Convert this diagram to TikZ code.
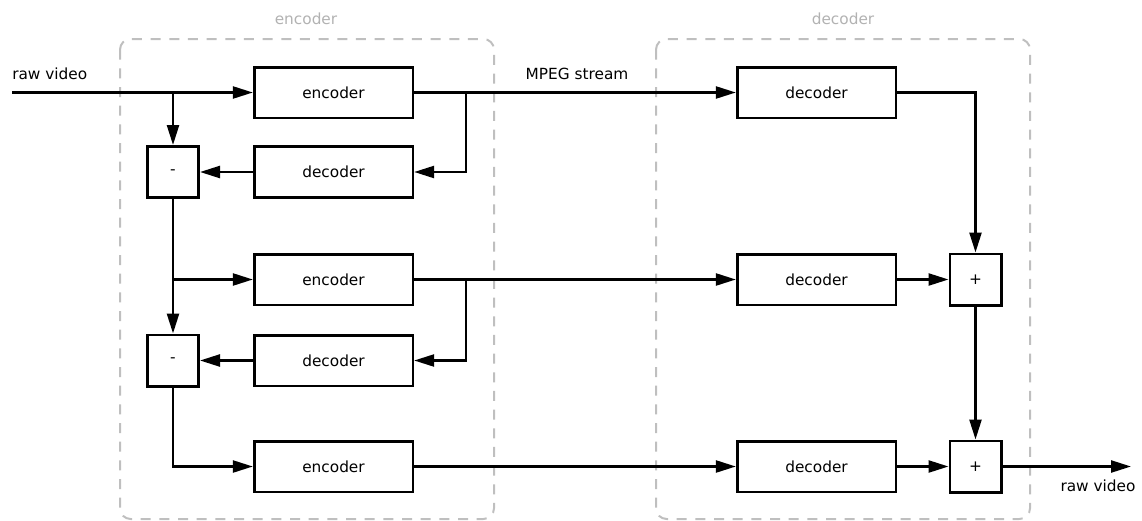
\documentclass[tikz,border=0pt]{standalone}
\usepackage{fontspec}
\setmainfont{DejaVu Sans}
\usetikzlibrary{arrows.meta}
\begin{document}
\begin{tikzpicture}[x=0.75pt,y=-0.75pt,
  font=\fontsize{11.5}{13}\selectfont,
  blk/.style={draw,line width=2pt,minimum width=119pt,minimum height=38pt,inner sep=0pt},
  op/.style={draw,line width=2pt,minimum width=38.5pt,minimum height=38.5pt,inner sep=0pt},
  conn/.style={line width=1.8pt,-{Triangle[length=15pt,width=9pt]}},
  wire/.style={line width=1.8pt},
  grp/.style={draw=black!25,line width=1.5pt,dash pattern=on 7.5pt off 6.5pt,rounded corners=8pt},
  grplab/.style={text=black!30}]
\useasboundingbox (0,0) rectangle (1142,521);
% groups
\draw[grp] (120,39) rectangle (494,519);
\draw[grp] (656,39) rectangle (1030,519);
\node[grplab] (gl1) at (306,19) {encoder};
\node[grplab] (gl2) at (843,19) {decoder};
% left column
\node[blk] (enc1) at (333.5,92.5) {encoder};
\node[blk] (dec1) at (333.5,172) {decoder};
\node[blk] (enc2) at (333.5,279.5) {encoder};
\node[blk] (dec2) at (333.5,360.5) {decoder};
\node[blk] (enc3) at (333.5,466.5) {encoder};
\node[op] (m1) at (173,172) {-};
\node[op] (m2) at (173,360.5) {-};
% right column
\node[blk] (d1) at (816.5,92.5) {decoder};
\node[blk] (d2) at (816.5,279.5) {decoder};
\node[blk] (d3) at (816.5,466.5) {decoder};
\node[op] (p1) at (975.5,279.5) {+};
\node[op] (p2) at (975.5,466.5) {+};
% coordinates
\coordinate (in) at (12,92.5);
\coordinate (b1) at (173,92.5);
\coordinate (s1) at (466,92.5);
\coordinate (b2) at (173,279.5);
\coordinate (s2) at (466,279.5);
\coordinate (out) at (1131,466.5);
% labels
\node[anchor=south west,inner sep=0pt] (lin) at (12,80) {raw video};
\node[anchor=south,inner sep=0pt] (lmpeg) at (577,80) {MPEG stream};
\node[anchor=north,inner sep=0pt] (lout) at (1098,480) {raw video};
% connectors
\draw[conn] (in) -- (enc1.west);
\draw[conn] (b1) -- (m1.north);
\draw[conn] (enc1.east) -- (d1.west);
\draw[conn] (s1) |- (dec1.east);
\draw[conn] (dec1.west) -- (m1.east);
\draw[conn] (m1.south) -- (m2.north);
\draw[conn] (b2) -- (enc2.west);
\draw[conn] (enc2.east) -- (d2.west);
\draw[conn] (s2) |- (dec2.east);
\draw[conn] (dec2.west) -- (m2.east);
\draw[conn] (m2.south) |- (enc3.west);
\draw[conn] (enc3.east) -- (d3.west);
\draw[conn] (d1.east) -| (p1.north);
\draw[conn] (d2.east) -- (p1.west);
\draw[conn] (p1.south) -- (p2.north);
\draw[conn] (d3.east) -- (p2.west);
\draw[conn] (p2.east) -- (out);
\end{tikzpicture}
\end{document}
